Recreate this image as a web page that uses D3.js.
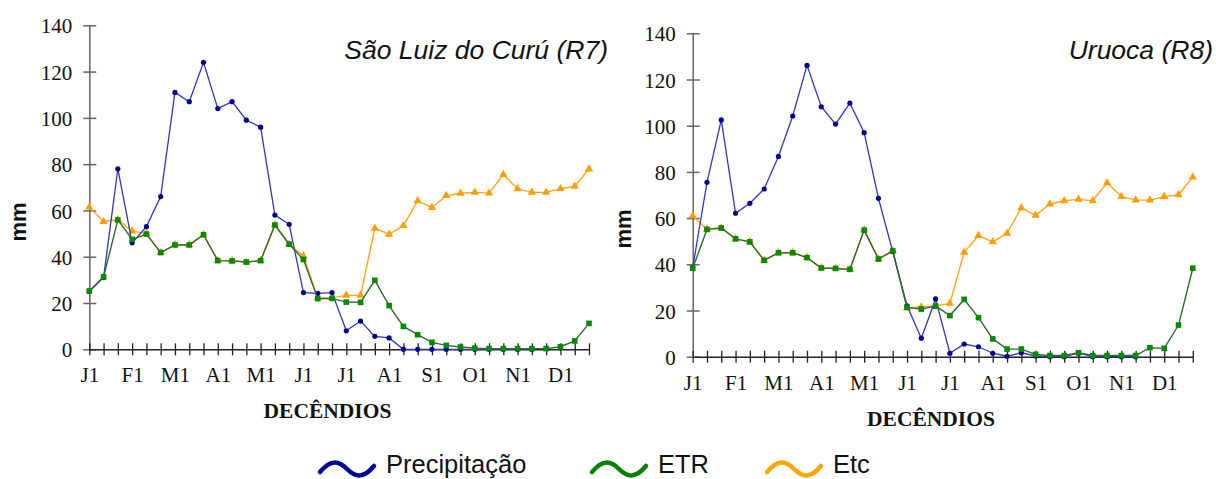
<!DOCTYPE html>
<html>
<head>
<meta charset="utf-8">
<script src="https://cdn.jsdelivr.net/npm/d3@7"></script>
<style>body{margin:0;background:#fff}</style>
</head>
<body>
<svg id="chart" width="1216" height="479"></svg>
<script>
//  data
const decendios = d3.range(36);
const monthLabels = ["J1", "F1", "M1", "A1", "M1", "J1", "J1", "A1", "S1", "O1", "N1", "D1"];
const yTicks = [0, 20, 40, 60, 80, 100, 120, 140];
const seriesNames = ["Precipitação", "ETR", "Etc"];

//  precipitation stops before the last decêndios (no markers there in the original)
const precipR7 = [25, 31, 78, 46, 53, 66, 111, 107, 124, 104, 107, 99, 96, 58, 54, 24.5, 24.2, 24.5,
  8, 12.2, 5.6, 4.9, 0, 0, 0, 0, 0, 0, 0, 0, 0, 0];
const etrR7 = [25.2, 31.3, 55.9, 47.5, 49.8, 41.8, 45.1, 45.1, 49.5, 38.3, 38.2, 37.7, 38.3, 53.7, 45.4, 38.8, 21.9, 22,
  20.4, 20.3, 29.8, 18.9, 9.9, 6.3, 3, 1.7, 1, 0.5, 0.3, 0.3, 0.3, 0.3, 0.3, 1.1, 3.6, 11.2];
const etcR7 = [61.4, 55.2, 56, 51.1, 50, 41.8, 45.1, 45.1, 49.5, 38.3, 38.2, 37.7, 38.3, 53.7, 45.4, 40.3, 22.2, 22.2,
  23.3, 23.3, 52.3, 49.7, 53.4, 64.2, 61.2, 66.4, 67.4, 67.8, 67.5, 75.5, 69.3, 67.8, 67.8, 69.4, 70.4, 77.9];

const precipR8 = [38.5, 75.5, 102.5, 62.1, 66.4, 72.6, 86.7, 104.2, 126.1, 108.2, 100.7, 109.8, 97, 68.6, 45.5, 22, 8, 25,
  1.5, 5.5, 4.3, 1.5, 0.2, 1.7, 0.3, 0, 0, 1.5, 0, 0, 0, 0];
const etrR8 = [38.3, 55.1, 55.7, 51, 49.7, 41.7, 45, 45, 42.9, 38.4, 38.2, 37.8, 54.8, 42.3, 45.8, 21.4, 20.6, 21.9,
  17.8, 24.8, 16.9, 7.7, 3.3, 3.3, 1, 0.5, 0.5, 1.7, 0.5, 0.5, 0.5, 0.5, 3.9, 3.6, 13.7, 38.3];
const etcR8 = [61, 55.1, 55.7, 51, 49.7, 41.7, 45, 45, 42.9, 38.4, 38.2, 37.8, 54.8, 42.3, 45.8, 21, 21.6, 22,
  23.1, 45.2, 52.4, 49.7, 53.4, 64.4, 61.2, 66.1, 67.5, 68.1, 67.5, 75.3, 69.3, 67.8, 67.8, 69.3, 70.1, 77.7];

//  draw
const svg = d3.select("#chart");
const serif = "'Liberation Serif', 'Times New Roman', serif";
const sans = "'Liberation Sans', Arial, sans-serif";

function draw_panel(p, precip, etr, etc) {
  const x = d3.scaleLinear().domain([0, 35]).range([p.x0, p.x1]);
  const y = d3.scaleLinear().domain([0, 140]).range([p.yBot, p.yTop]);

  const g = svg.append("g");

  //  y axis
  const ya = g.append("g")
    .attr("transform", `translate(${p.x0},0)`)
    .call(d3.axisLeft(y).tickValues(yTicks).tickSize(6).tickSizeOuter(0));
  ya.select(".domain").attr("stroke", "#666").attr("stroke-width", 1.5);
  ya.selectAll(".tick line").attr("stroke", "#666").attr("stroke-width", 1.5).attr("x1", 7);
  ya.selectAll(".tick text")
    .attr("x", -17).attr("dy", "0.36em")
    .attr("font-family", serif).attr("font-size", 21).attr("fill", "#111");

  //  x axis
  const xa = g.append("g")
    .attr("transform", `translate(0,${p.yBot})`)
    .call(d3.axisBottom(x).tickValues(decendios).tickSize(6).tickSizeOuter(0)
      .tickFormat(i => i % 3 == 0 ? monthLabels[i / 3] : ""));
  xa.select(".domain").attr("stroke", "#222").attr("stroke-width", 1.5);
  xa.selectAll(".tick line").attr("stroke", "#222").attr("stroke-width", 1.3).attr("y1", -6);
  xa.selectAll(".tick text")
    .attr("y", 33).attr("dy", 0)
    .attr("font-family", serif).attr("font-size", 21).attr("fill", "#111");

  //  labels
  g.append("text")
    .attr("x", p.titleX).attr("y", p.titleY)
    .attr("text-anchor", "end")
    .attr("font-family", sans).attr("font-style", "italic").attr("font-size", 26.5)
    .attr("fill", "#111")
    .text(p.title);

  g.append("text")
    .attr("transform", `translate(${p.mmX},${p.mmY}) rotate(-90)`)
    .attr("text-anchor", "middle")
    .attr("font-family", sans).attr("font-weight", "bold").attr("font-size", 22)
    .attr("fill", "#111")
    .text("mm");

  g.append("text")
    .attr("x", p.decX).attr("y", p.decY)
    .attr("text-anchor", "middle")
    .attr("font-family", serif).attr("font-weight", "bold").attr("font-size", 21.5)
    .attr("fill", "#111")
    .text("DECÊNDIOS");

  const line = d3.line().x((d, i) => x(i)).y(d => y(d));

  //  Etc
  g.append("path").datum(etc)
    .attr("fill", "none").attr("stroke", "#FFA520").attr("stroke-width", 1.4)
    .attr("d", line);
  g.append("g").selectAll("path").data(etc).join("path")
    .attr("transform", (d, i) => `translate(${x(i)},${y(d)})`)
    .attr("d", d3.symbol(d3.symbolTriangle, 30))
    .attr("fill", "#FF9E00");

  //  Precipitação
  g.append("path").datum(precip)
    .attr("fill", "none").attr("stroke", "#3535C0").attr("stroke-width", 1.3)
    .attr("d", line);
  g.append("g").selectAll("circle").data(precip).join("circle")
    .attr("cx", (d, i) => x(i)).attr("cy", d => y(d))
    .attr("r", 2.6)
    .attr("fill", "#000090");

  //  ETR
  g.append("path").datum(etr)
    .attr("fill", "none").attr("stroke", "#2F6A2F").attr("stroke-width", 1.4)
    .attr("d", line);
  g.append("g").selectAll("rect").data(etr).join("rect")
    .attr("x", (d, i) => x(i) - 2.8).attr("y", d => y(d) - 2.8)
    .attr("width", 5.6).attr("height", 5.6)
    .attr("fill", "#008A00");
}

draw_panel({title: "São Luiz do Curú (R7)", x0: 89.3, x1: 589, yTop: 25.3, yBot: 349.3,
  titleX: 608, titleY: 59, mmX: 26, mmY: 222, decX: 327.5, decY: 418}, precipR7, etrR7, etcR7);
draw_panel({title: "Uruoca (R8)", x0: 692.7, x1: 1192.8, yTop: 33.3, yBot: 356.7,
  titleX: 1213, titleY: 59, mmX: 631, mmY: 229, decX: 931, decY: 425.5}, precipR8, etrR8, etcR8);

//  legend
const legendColors = ["#00009C", "#008200", "#FFA500"];
const legendX = [320, 592, 767];
const wave = "M0,3 C10,-9 18,-9 27,0 C36,9 44,9 54,-3";
const lg = svg.append("g");
seriesNames.forEach((name, i) => {
  const item = lg.append("g").attr("transform", `translate(${legendX[i]},469)`);
  item.append("path")
    .attr("d", wave)
    .attr("fill", "none").attr("stroke", legendColors[i]).attr("stroke-width", 4.5)
    .attr("stroke-linecap", "round");
  item.append("text")
    .attr("x", 66).attr("y", 4)
    .attr("font-family", sans).attr("font-size", 25.5).attr("fill", "#111")
    .text(name);
});
</script>
</body>
</html>
